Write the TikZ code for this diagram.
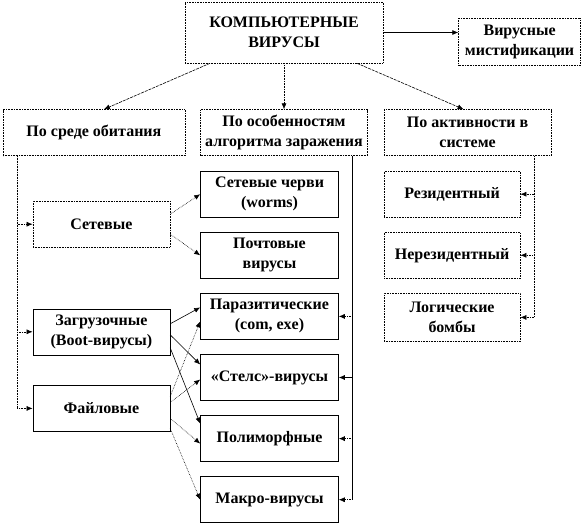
\documentclass[tikz,border=0pt]{standalone}
\usepackage{fontspec}
\setmainfont{Liberation Serif}
\usetikzlibrary{positioning, arrows.meta, calc}

\begin{document}
\begin{tikzpicture}[
    node distance=14.5pt,
    box/.style={rectangle, draw, line width=0.6pt, fill=white, align=center,
                inner sep=1pt, minimum height=46pt,
                font=\fontsize{16}{20}\selectfont\bfseries},
    dbox/.style={box, densely dotted},
    arr/.style={-{Latex[length=6pt,width=5pt]}, line width=0.6pt},
    darr/.style={arr, densely dotted},
    sarr/.style={arr, dash pattern=on 3pt off 1pt}
]
\useasboundingbox (0,0) rectangle (583pt,-523pt);

% top level
\node[dbox, minimum width=198pt, minimum height=61pt] (kv) at (284pt,-32.5pt) {КОМПЬЮТЕРНЫЕ\\ВИРУСЫ};
\node[dbox, minimum width=122pt, minimum height=47pt, right=75pt of kv, yshift=-9pt] (mist) {Вирусные\\мистификации};

% classification
\node[dbox, minimum width=167pt, below=46pt of kv] (algo) {По особенностям\\алгоритма заражения};
\node[dbox, minimum width=182pt, left=15pt of algo] (sreda) {По среде обитания};
\node[dbox, minimum width=167pt, right=16pt of algo] (aktiv) {По активности в\\системе};

% by habitat
\node[dbox, minimum width=137pt, below right=45pt and 30pt of sreda.south west] (set) {Сетевые};
\node[box, minimum width=137pt, below=61pt of set] (zagr) {Загрузочные\\(Boot-вирусы)};
\node[box, minimum width=137pt, below=30pt of zagr] (fail) {Файловые};

% by algorithm
\node[box, minimum width=138pt, below right=15pt and 0pt of algo.south west] (cherv) {Сетевые черви\\(worms)};
\node[box, minimum width=138pt, below=of cherv] (pocht) {Почтовые\\вирусы};
\node[box, minimum width=138pt, below=of pocht] (paraz) {Паразитические\\(com, exe)};
\node[box, minimum width=138pt, below=of paraz] (stels) {«Стелс»-вирусы};
\node[box, minimum width=138pt, below=of stels] (polim) {Полиморфные};
\node[box, minimum width=138pt, below=of polim] (makro) {Макро-вирусы};

% by activity
\node[dbox, minimum width=136pt, below right=15pt and 0pt of aktiv.south west] (rez) {Резидентный};
\node[dbox, minimum width=136pt, below=of rez] (nerez) {Нерезидентный};
\node[dbox, minimum width=136pt, minimum height=48pt, below=of nerez] (logic) {Логические\\бомбы};

\coordinate (sl) at ($(sreda.south west)+(14.5pt,0)$);
\coordinate (am) at ($(algo.south east)+(-15.5pt,0)$);
\coordinate (ar) at ($(aktiv.south east)+(-17.5pt,0)$);

\draw[arr] (kv.east) -- (kv.east -| mist.west);
\draw[sarr] ([xshift=-74pt]kv.south) -- ([xshift=10pt]sreda.north);
\draw[darr] (kv.south) -- (algo.north);
\draw[sarr] ([xshift=73pt]kv.south) -- ([xshift=-4pt]aktiv.north);

\draw[darr] (sl) |- (set.west);
\draw[darr] (sl) |- (zagr.west);
\draw[darr] (sl) |- (fail.west);

\draw[line width=0.6pt] (am) -- (am |- makro.east);
\draw[darr] (am |- paraz.east) -- (paraz.east);
\draw[arr] (am |- stels.east) -- (stels.east);
\draw[darr] (am |- polim.east) -- (polim.east);
\draw[darr] (am |- makro.east) -- (makro.east);

\draw[darr] (ar) |- (rez.east);
\draw[darr] (ar) |- (nerez.east);
\draw[darr] (ar) |- (logic.east);

\draw[darr] ([yshift=10pt]set.east) -- (cherv.west);
\draw[darr] ([yshift=-10pt]set.east) -- (pocht.west);
\draw[arr] ([yshift=8pt]zagr.east) -- ([yshift=9pt]paraz.west);
\draw[arr] ([yshift=-3pt]zagr.east) -- ([yshift=13pt]stels.west);
\draw[arr] ([yshift=-16pt]zagr.east) -- ([yshift=15pt]polim.west);
\draw[darr] ([yshift=12pt]fail.east) -- ([yshift=-5pt]paraz.west);
\draw[darr] ([yshift=6pt]fail.east) -- ([yshift=-2pt]stels.west);
\draw[darr] ([yshift=-10pt]fail.east) -- ([yshift=-5pt]polim.west);
\draw[darr] ([yshift=-20pt]fail.east) -- (makro.west);
\end{tikzpicture}
\end{document}
